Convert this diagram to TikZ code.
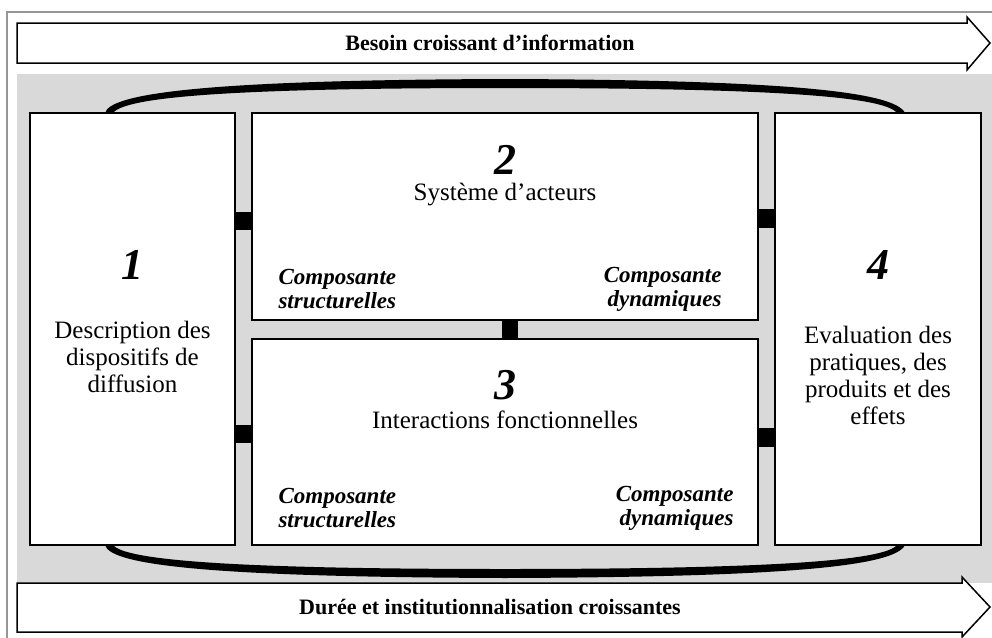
\documentclass[tikz,border=0pt]{standalone}
\usepackage{fontspec}
\setmainfont{Liberation Serif}
\usetikzlibrary{positioning}
\usetikzlibrary{calc}
\definecolor{panelgray}{RGB}{217,217,217}
\definecolor{framegray}{RGB}{150,150,150}
\tikzset{
  box/.style={draw, line width=1.6pt, fill=white, inner sep=0pt, outer sep=0pt},
  num/.style={font=\fontsize{44}{44}\selectfont\bfseries\itshape},
  lbl/.style={font=\fontsize{25}{27}\selectfont, align=center},
  comp/.style={font=\fontsize{23}{24}\selectfont\bfseries\itshape},
  banner/.style={font=\fontsize{22}{22}\selectfont\bfseries},
  bar/.style={draw, line width=1.5pt, fill=white, line join=miter}
}
\begin{document}
\begin{tikzpicture}[x=1pt, y=-1pt]
    \useasboundingbox (0,0) rectangle (992,637);
    \draw[framegray, line width=1.5pt] (7,645) -- (7,12) -- (995,12);
    \fill[panelgray] (17,74) rectangle (995,583);
    % the two growing arrows
    \draw[bar] (17,23) -- (967,23) -- (967,17) -- (990,43) -- (967,70) -- (967,63) -- (17,63) -- cycle;
    \node[banner] (need) at (490,43) {Besoin croissant d'information};
    \draw[bar] (17,583) -- (962,583) -- (962,577) -- (990,607) -- (962,637) -- (962,632) -- (17,632) -- cycle;
    \node[banner] (time) at (490,607) {Durée et institutionnalisation croissantes};
    % loop round the boxes
    \fill (105,113) .. controls (110,92) and (220,80) .. (505,79) .. controls (790,80) and (895,92) .. (905,113)
     -- (897,113) .. controls (885,97) and (780,88) .. (505,88) .. controls (230,88) and (125,97) .. (113,113) -- cycle;
    \fill (105,545) .. controls (110,566) and (220,577) .. (505,578) .. controls (790,577) and (895,566) .. (905,545)
     -- (897,545) .. controls (885,560) and (780,569) .. (505,569) .. controls (230,569) and (125,560) .. (113,545) -- cycle;
    % boxes
    \node[box, anchor=north west, minimum width=205, minimum height=432] (b1) at (30,113) {};
    \node[box, minimum width=506, minimum height=207, right=17pt of b1.north east, anchor=north west] (b2) {};
    \node[box, minimum width=506, minimum height=206, below=19pt of b2.south west, anchor=north west] (b3) {};
    \node[box, minimum width=206, minimum height=432, right=17pt of b2.north east, anchor=north west] (b4) {};
    % links
    \fill (b1.east |- 0,212) rectangle (b2.west |- 0,230);
    \fill (b2.east |- 0,209) rectangle (b4.west |- 0,228);
    \fill (b1.east |- 0,425) rectangle (b3.west |- 0,443);
    \fill (b3.east |- 0,428) rectangle (b4.west |- 0,447);
    \fill (b2.south -| 502,0) rectangle (b3.north -| 518,0);
    % texts
    \node[num] (n1) at ($(b1.north)+(0,152)$) {1};
    \node[lbl] (t1) at ($(b1.north)+(0,244)$) {Description des\\dispositifs de\\diffusion};
    \node[num] (n2) at ($(b2.north)+(0,47)$) {2};
    \node[lbl] (t2) at ($(b2.north)+(0,82)$) {Système d'acteurs};
    \node[comp, align=left, anchor=west] (s2) at ($(b2.south west)+(23,-31)$) {Composante\\structurelles};
    \node[comp, align=right, anchor=east] (d2) at ($(b2.south east)+(-33,-31)$) {Composante\\dynamiques};
    \node[num] (n3) at ($(b3.north)+(0,46)$) {3};
    \node[lbl] (t3) at ($(b3.north)+(0,81)$) {Interactions fonctionnelles};
    \node[comp, align=left, anchor=west] (s3) at ($(b3.south west)+(23,-37)$) {Composante\\structurelles};
    \node[comp, align=right, anchor=east] (d3) at ($(b3.south east)+(-21,-37)$) {Composante\\dynamiques};
    \node[num] (n4) at ($(b4.north)+(0,152)$) {4};
    \node[lbl] (t4) at ($(b4.north)+(0,262)$) {Evaluation des\\pratiques, des\\produits et des\\effets};
\end{tikzpicture}
\end{document}
